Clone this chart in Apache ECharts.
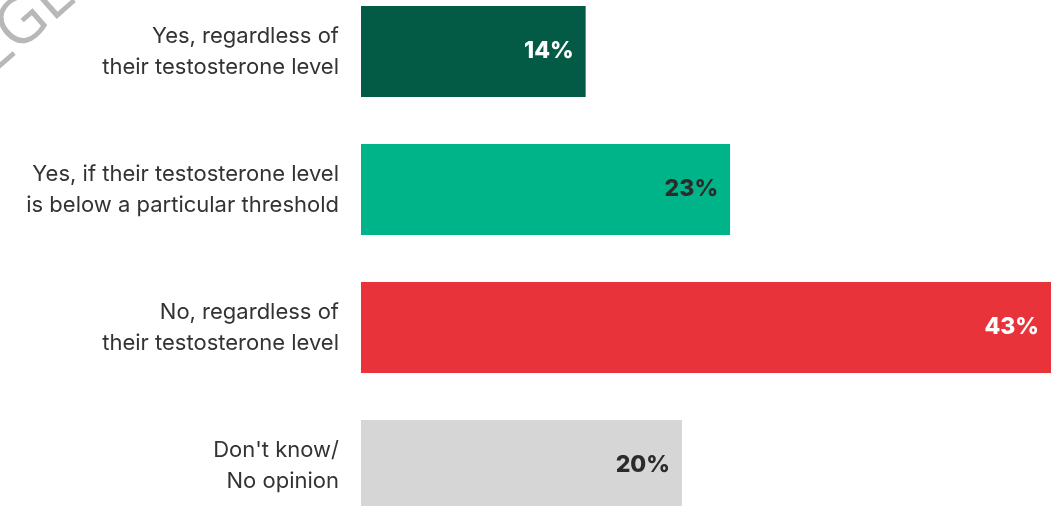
<!DOCTYPE html>
<html>
<head>
<meta charset="utf-8">
<script src="https://cdn.jsdelivr.net/npm/echarts@6/dist/echarts.min.js"></script>
<style>
html,body{margin:0;padding:0;background:#fff;}
#chart{width:1063px;height:506px;}
</style>
</head>
<body>
<div id="chart"></div>
<script>
const categories = [
  "Yes, regardless of\ntheir testosterone level",
  "Yes, if their testosterone level\nis below a particular threshold",
  "No, regardless of\ntheir testosterone level",
  "Don't know/\nNo opinion"
];
const values = [14, 23, 43, 20];

const barColors = ["#035b45", "#00b489", "#e8333a", "#d6d6d6"];
const labelColors = ["#ffffff", "#2b2b2b", "#ffffff", "#2b2b2b"];

const chart = echarts.init(document.getElementById('chart'), null, {renderer: 'canvas'});
const font = "Inter, 'Open Sans', sans-serif";
chart.setOption({
  animation: false,
  backgroundColor: '#ffffff',
  grid: {left: 361, right: 12, top: -17.5, height: 552, containLabel: false, outerBoundsMode: 'none'},
  xAxis: {type: 'value', min: 0, max: 43, show: false},
  yAxis: {
    type: 'category', data: categories, inverse: true,
    axisLine: {show: false}, axisTick: {show: false}, splitLine: {show: false},
    axisLabel: {
      margin: 22, color: '#333333', fontFamily: font, fontSize: 22,
      lineHeight: 31, align: 'right'
    }
  },
  graphic: [{
    type: 'text', x: 26, y: 64, rotation: 0.72,
    style: {text: 'GE', fontFamily: "'Open Sans', sans-serif", fontSize: 64, fontWeight: 400,
            fill: '#b8b8b8', textVerticalAlign: 'bottom'}
  }, {
    type: 'text', x: 26, y: 64, rotation: 0.72,
    style: {text: 'L', fontFamily: "'Open Sans', sans-serif", fontSize: 64, fontWeight: 400,
            fill: '#b8b8b8', textVerticalAlign: 'bottom', textAlign: 'right'}
  }],
  series: [{
    type: 'bar', barWidth: 91,
    data: values.map((v, i) => ({
      value: v,
      itemStyle: {color: barColors[i]},
      label: {color: labelColors[i]}
    })),
    label: {
      show: true, position: 'insideRight', distance: 12,
      formatter: p => p.value + '%',
      fontFamily: "Inter, sans-serif", fontWeight: 800, fontSize: 23
    }
  }]
});
</script>
</body>
</html>
